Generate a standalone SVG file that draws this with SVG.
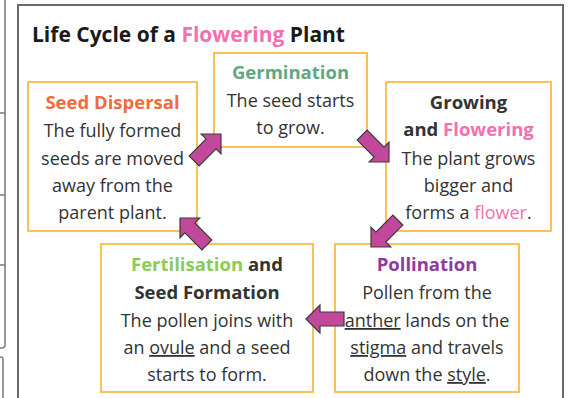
<svg xmlns="http://www.w3.org/2000/svg" width="569" height="398" viewBox="0 0 569 398">
<style>
  .box { fill: #ffffff; stroke: #FBBA45; stroke-width: 1.8; }
  .t { font-family: "Open Sans", "Liberation Sans", sans-serif; font-size: 18px; fill: #333333; text-anchor: middle; }
  .h { font-weight: bold; font-size: 18.5px; }
  .title { font-family: "Open Sans", "Liberation Sans", sans-serif; font-size: 21px; font-weight: bold; fill: #1a1a1a; }
  .pink { fill: #F270B0; }
  .u { text-decoration: underline; }
  .frame { fill: none; stroke: #6a6a6a; stroke-width: 2; }
  .edge { fill: none; stroke: #7a7a7a; stroke-width: 1.5; }
  .arrow { fill: #C2489C; stroke: #3a3a3a; stroke-width: 1.2; stroke-linejoin: miter; }
</style>
<defs>
  <polygon id="blockArrow" class="arrow" points="0,0 -14,-14 -14,-7 -38,-7 -38,7 -14,7 -14,14"/>
</defs>
<rect width="569" height="398" fill="#ffffff"/>
<g id="page-edge">
  <path class="edge" d="M5,0 V345 Q5,348 2,348 H0"/>
  <path class="edge" d="M0,113 H5 M0,195 H5 M0,265 H5"/>
  <path class="edge" d="M0,357 H1 Q3,357 3,360 V398"/>
</g>
<path class="frame" d="M18,400 V5 H563 V400"/>
<text class="title" x="32" y="42">Life Cycle of a <tspan class="pink">Flowering</tspan> Plant</text>

<g id="seed-dispersal">
  <rect class="box" x="28" y="82" width="169" height="149"/>
  <text class="t h" x="112.5" y="109" style="fill:#F36A3C">Seed Dispersal</text>
  <text class="t" x="112.5" y="137">The fully formed</text>
  <text class="t" x="112.5" y="165">seeds are moved</text>
  <text class="t" x="112.5" y="192">away from the</text>
  <text class="t" x="112.5" y="219">parent plant.</text>
</g>

<g id="germination">
  <rect class="box" x="214" y="53" width="153" height="94"/>
  <text class="t h" x="290.5" y="79" style="fill:#5FA882">Germination</text>
  <text class="t" x="290.5" y="107">The seed starts</text>
  <text class="t" x="290.5" y="134">to grow.</text>
</g>

<g id="growing">
  <rect class="box" x="386" y="82" width="165" height="149"/>
  <text class="t h" x="468.5" y="109">Growing</text>
  <text class="t h" x="468.5" y="136">and <tspan class="pink">Flowering</tspan></text>
  <text class="t" x="468.5" y="165">The plant grows</text>
  <text class="t" x="468.5" y="192">bigger and</text>
  <text class="t" x="468.5" y="219">forms a <tspan class="pink">flower</tspan>.</text>
</g>

<g id="pollination">
  <rect class="box" x="335" y="244" width="184" height="148"/>
  <text class="t h" x="427" y="271" style="fill:#8E3A9F">Pollination</text>
  <text class="t" x="427" y="299">Pollen from the</text>
  <text class="t" x="427" y="327"><tspan class="u">anther</tspan> lands on the</text>
  <text class="t" x="427" y="354"><tspan class="u">stigma</tspan> and travels</text>
  <text class="t" x="427" y="381">down the <tspan class="u">style</tspan>.</text>
</g>

<g id="fertilisation">
  <rect class="box" x="101" y="244" width="212" height="148"/>
  <text class="t h" x="207" y="271"><tspan style="fill:#8ACB55">Fertilisation</tspan> and</text>
  <text class="t h" x="207" y="299">Seed Formation</text>
  <text class="t" x="207" y="327">The pollen joins with</text>
  <text class="t" x="207" y="354">an <tspan class="u">ovule</tspan> and a seed</text>
  <text class="t" x="207" y="381">starts to form.</text>
</g>

<g id="connectors">
  <use href="#blockArrow" transform="translate(221,134) rotate(-45)"/>
  <use href="#blockArrow" transform="translate(389,162) rotate(45)"/>
  <use href="#blockArrow" transform="translate(371,247) rotate(135)"/>
  <use href="#blockArrow" transform="translate(180,218) rotate(-135)"/>
  <use href="#blockArrow" transform="translate(306,319) rotate(180)"/>
</g>
</svg>
